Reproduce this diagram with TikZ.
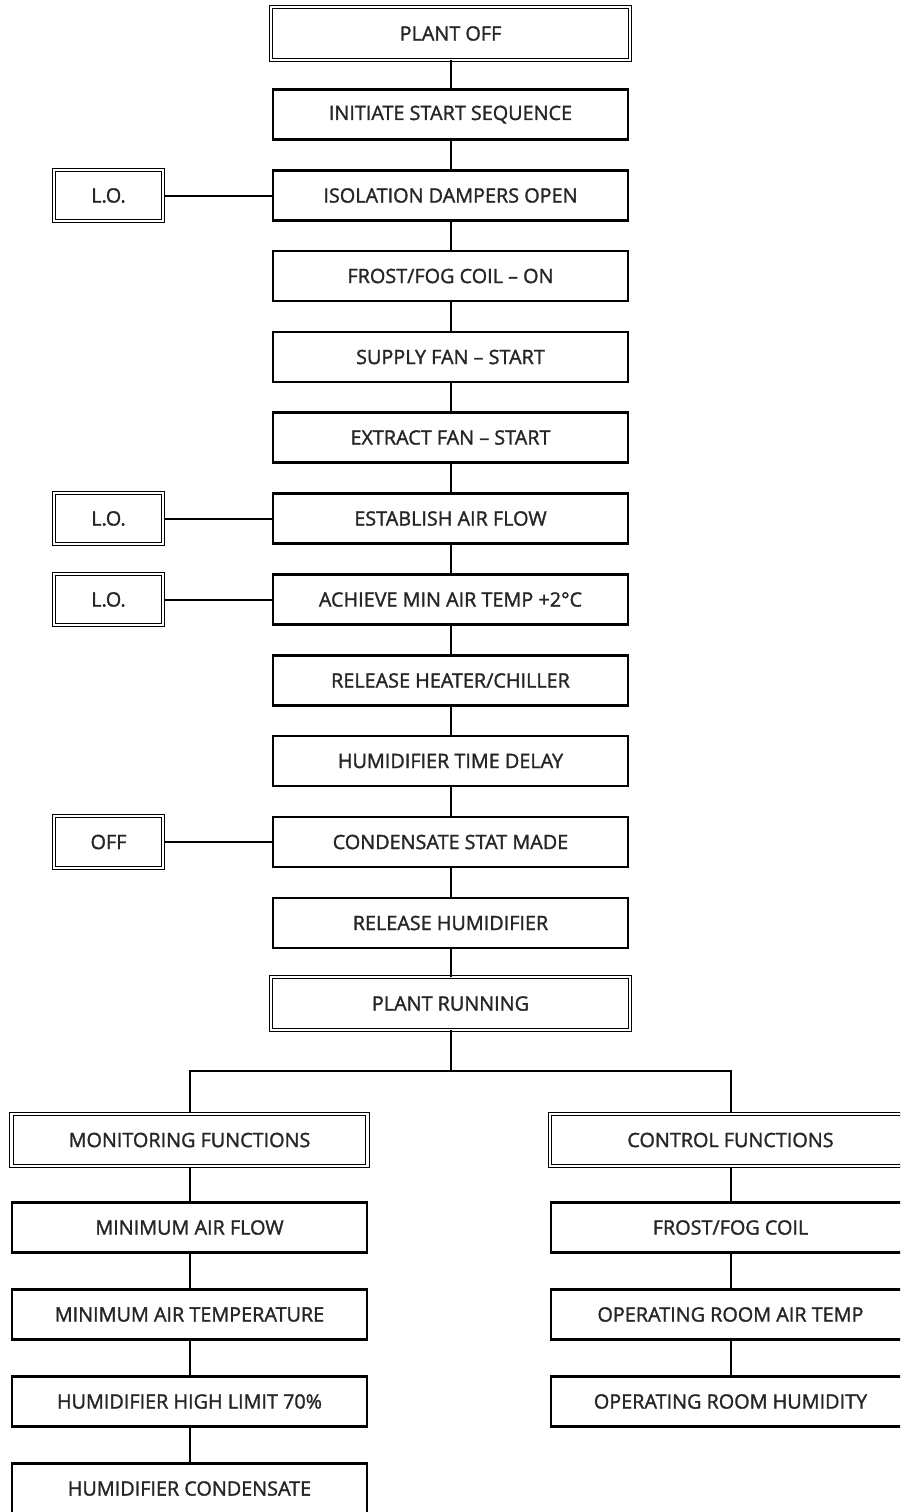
\documentclass[tikz,border=0pt]{standalone}
\usepackage{fontspec}
\setmainfont{Open Sans}[FakeBold=1.5]
\definecolor{txt}{HTML}{262626}
\begin{document}
\begin{tikzpicture}[x=1pt,y=-1pt,
  every node/.style={font=\fontsize{19.8}{22}\selectfont, text=txt, inner sep=0pt, anchor=center},
  box/.style={draw=black, line width=2.2pt, minimum width=355pt, minimum height=50pt},
  dbox/.style={draw=black, double=white, double distance=2.4pt, line width=1pt, minimum width=359pt, minimum height=52.5pt},
  sbox/.style={draw=black, double=white, double distance=2.4pt, line width=1pt, minimum width=109pt, minimum height=51.5pt},
  link/.style={draw=black, line width=2pt}]
\useasboundingbox (0,0) rectangle (900,1512);
\clip (0,0) rectangle (900,1512);
% main column
\node[dbox] (n0) at (450.5,33.5) {PLANT OFF};
\node[box] (n1) at (450.5,114.5) {INITIATE START SEQUENCE};
\node[box] (n2) at (450.5,195.5) {ISOLATION DAMPERS OPEN};
\node[box] (n3) at (450.5,276) {FROST/FOG COIL – ON};
\node[box] (n4) at (450.5,357) {SUPPLY FAN – START};
\node[box] (n5) at (450.5,437.5) {EXTRACT FAN – START};
\node[box] (n6) at (450.5,518.5) {ESTABLISH AIR FLOW};
\node[box] (n7) at (450.5,599.5) {ACHIEVE MIN AIR TEMP +2°C};
\node[box] (n8) at (450.5,680.5) {RELEASE HEATER/CHILLER};
\node[box] (n9) at (450.5,761) {HUMIDIFIER TIME DELAY};
\node[box] (n10) at (450.5,842) {CONDENSATE STAT MADE};
\node[box] (n11) at (450.5,923) {RELEASE HUMIDIFIER};
\node[dbox] (n12) at (450.5,1003.5) {PLANT RUNNING};
% side boxes
\node[sbox] (s2) at (108.5,195.5) {L.O.};
\node[sbox] (s6) at (108.5,518.5) {L.O.};
\node[sbox] (s7) at (108.5,599.5) {L.O.};
\node[sbox] (s10) at (108.5,842) {OFF};
% lower columns
\node[dbox, minimum width=356pt] (m0) at (189.5,1140) {MONITORING FUNCTIONS};
\node[box] (m1) at (189.5,1227.5) {MINIMUM AIR FLOW};
\node[box] (m2) at (189.5,1314.5) {MINIMUM AIR TEMPERATURE};
\node[box] (m3) at (189.5,1401.5) {HUMIDIFIER HIGH LIMIT 70\%};
\node[box] (m4) at (189.5,1488.5) {HUMIDIFIER CONDENSATE};
\node[dbox, minimum width=361pt] (c0) at (730.5,1140) {CONTROL FUNCTIONS};
\node[box, minimum width=359pt] (c1) at (730.5,1227.5) {FROST/FOG COIL};
\node[box, minimum width=359pt] (c2) at (730.5,1314.5) {OPERATING ROOM AIR TEMP};
\node[box, minimum width=359pt] (c3) at (730.5,1401.5) {OPERATING ROOM HUMIDITY};
% connectors
\foreach \a/\b in {n0/n1,n1/n2,n2/n3,n3/n4,n4/n5,n5/n6,n6/n7,n7/n8,n8/n9,n9/n10,n10/n11,n11/n12,
                   m0/m1,m1/m2,m2/m3,m3/m4,c0/c1,c1/c2,c2/c3}
  \draw[link] (\a.south) -- (\b.north);
\foreach \a/\b in {s2/n2,s6/n6,s7/n7,s10/n10}
  \draw[link] (\a.east) -- (\b.west);
\coordinate (bl) at (189.5,1071);
\coordinate (br) at (730.5,1071);
\draw[link] (n12.south) -- (n12.south |- bl);
\draw[link] (m0.north) -- (bl) -- (br) -- (c0.north);
\end{tikzpicture}
\end{document}
